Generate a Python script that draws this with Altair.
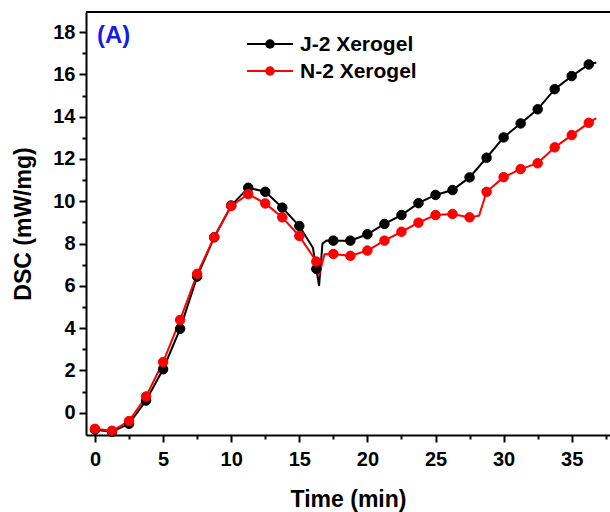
import altair as alt
import pandas as pd

series_names = ["J-2 Xerogel", "N-2 Xerogel"]
series_colors = ["#000000", "#ff0000"]

marker_time = [0.0, 1.25, 2.5, 3.75, 5.0, 6.25, 7.5, 8.75, 10.0, 11.25,
               12.5, 13.75, 15.0, 16.25, 17.5, 18.75, 20.0, 21.25, 22.5, 23.75,
               25.0, 26.25, 27.5, 28.75, 30.0, 31.25, 32.5, 33.75, 35.0, 36.25]

j2_marker = [-0.80, -0.90, -0.52, 0.58, 2.06, 3.97, 6.44, 8.30, 9.80, 10.64,
             10.45, 9.70, 8.83, 6.80, 8.14, 8.14, 8.44, 8.93, 9.35, 9.91,
             10.30, 10.53, 11.13, 12.06, 13.02, 13.68, 14.35, 15.30, 15.92, 16.47]

n2_marker = [-0.76, -0.85, -0.39, 0.77, 2.40, 4.39, 6.57, 8.30, 9.78, 10.34,
             9.90, 9.24, 8.36, 7.15, 7.51, 7.42, 7.67, 8.14, 8.56, 8.99,
             9.35, 9.40, 9.24, 10.45, 11.14, 11.52, 11.80, 12.55, 13.13, 13.71]

# extra points of the continuous curves (between markers)
j2_extra_time = [16.0, 16.45, 16.7, 17.0, 36.8]
j2_extra_val = [7.8, 6.0, 8.0, 8.15, 16.56]
n2_extra_time = [16.45, 16.85, 28.2, 36.8]
n2_extra_val = [6.5, 7.5, 9.32, 13.93]

x_major = [0, 5, 10, 15, 20, 25, 30, 35]
x_minor = [2.5, 7.5, 12.5, 17.5, 22.5, 27.5, 32.5, 37.5]
y_major = [0, 2, 4, 6, 8, 10, 12, 14, 16, 18]
y_minor = [1, 3, 5, 7, 9, 11, 13, 15, 17]

markers = pd.DataFrame(
    [{"time": t, "dsc": v, "series": series_names[0]} for t, v in zip(marker_time, j2_marker)]
    + [{"time": t, "dsc": v, "series": series_names[1]} for t, v in zip(marker_time, n2_marker)]
)
extras = pd.DataFrame(
    [{"time": t, "dsc": v, "series": series_names[0]} for t, v in zip(j2_extra_time, j2_extra_val)]
    + [{"time": t, "dsc": v, "series": series_names[1]} for t, v in zip(n2_extra_time, n2_extra_val)]
)
curve = pd.concat([markers, extras]).sort_values(["series", "time"]).reset_index(drop=True)

FONT = "Liberation Sans"
W, H = 524, 423
xscale = alt.Scale(domain=[-0.66, 37.81], nice=False, zero=False)
yscale = alt.Scale(domain=[-1.05, 18.95], nice=False, zero=False)
cscale = alt.Scale(domain=series_names, range=series_colors)

lines = alt.Chart(curve).mark_line(strokeWidth=2, clip=True).encode(
    x=alt.X("time:Q", scale=xscale,
            axis=alt.Axis(values=x_major, title="Time (min)", orient="bottom",
                          tickSize=7, labelPadding=7, titlePadding=19, format="d")),
    y=alt.Y("dsc:Q", scale=yscale,
            axis=alt.Axis(values=y_major, title="DSC (mW/mg)", orient="left",
                          tickSize=7, labelPadding=4, titlePadding=17, format="d")),
    color=alt.Color("series:N", scale=cscale, legend=None),
    detail="series:N",
)

points = alt.Chart(markers).mark_point(filled=True, size=90, strokeWidth=1, opacity=1).encode(
    x=alt.X("time:Q", scale=xscale,
            axis=alt.Axis(values=x_minor, title=None, labels=False, domain=False,
                          orient="bottom", tickSize=4)),
    y=alt.Y("dsc:Q", scale=yscale,
            axis=alt.Axis(values=y_minor, title=None, labels=False, domain=False,
                          orient="left", tickSize=4)),
    fill=alt.Fill("series:N", scale=cscale, legend=None),
    stroke=alt.Stroke("series:N", scale=cscale, legend=None),
)

top_border = alt.Chart(markers).mark_rule(color="black", strokeWidth=2).encode(
    x=alt.value(0), x2=alt.value(W), y=alt.value(0)
)

# legend (line segment + dot + label) drawn with marks
legend_layers = []
for i, (name, col) in enumerate(zip(series_names, series_colors)):
    ld = pd.DataFrame({"label": [name]})
    yy = 32 + 27 * i
    legend_layers.append(alt.Chart(ld).mark_rule(color=col, strokeWidth=2).encode(
        x=alt.value(161), x2=alt.value(207), y=alt.value(yy)))
    legend_layers.append(alt.Chart(ld).mark_point(filled=True, size=90, strokeWidth=1,
                                                  color=col, opacity=1).encode(
        x=alt.value(184), y=alt.value(yy)))
    legend_layers.append(alt.Chart(ld).mark_text(
        font=FONT, fontSize=21, fontWeight="bold", color="black", align="left", baseline="middle"
    ).encode(x=alt.value(214), y=alt.value(yy + 1), text="label:N"))

panel_label = alt.Chart(pd.DataFrame({"label": ["(A)"]})).mark_text(
    font=FONT, fontSize=24, fontWeight="bold", color="#1a1ae6", align="left", baseline="middle"
).encode(x=alt.value(11), y=alt.value(24), text="label:N")

chart = alt.layer(lines, points, top_border, panel_label, *legend_layers).resolve_axis(
    x="independent", y="independent"
).properties(
    width=W, height=H,
    autosize=alt.AutoSizeParams(type="none"),
    padding={"left": 86, "top": 12, "right": 0, "bottom": 77},
    background="white",
).configure_view(strokeWidth=0).configure_axis(
    grid=False, domainColor="black", domainWidth=2, tickColor="black", tickWidth=2,
    labelFont=FONT, labelFontSize=20, labelFontWeight="bold", labelColor="black",
    titleFont=FONT, titleFontSize=23, titleFontWeight="bold", titleColor="black",
    labelFlush=False, labelOverlap=False,
)

chart.save("out.html", embed_options={"renderer": "svg", "actions": False})
